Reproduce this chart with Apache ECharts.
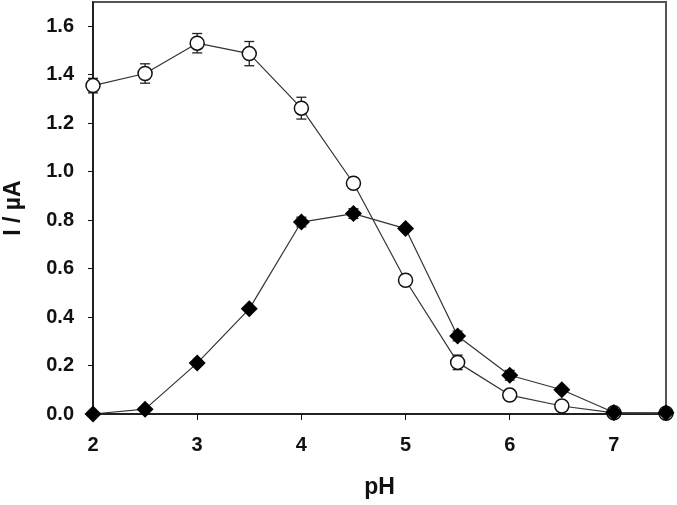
<!DOCTYPE html>
<html>
<head>
<meta charset="utf-8">
<script src="https://cdn.jsdelivr.net/npm/echarts@6/dist/echarts.min.js"></script>
<style>
  html, body { margin: 0; padding: 0; background: #fff; }
  #chart { width: 677px; height: 505px; }
</style>
</head>
<body>
<div id="chart"></div>
<script>
// pH values
var ph = [2, 2.5, 3, 3.5, 4, 4.5, 5, 5.5, 6, 6.5, 7, 7.5];
// open circles
var openI = [1.355, 1.405, 1.53, 1.487, 1.262, 0.952, 0.552, 0.213, 0.078, 0.033, 0.005, 0.003];
var openErr = [0.03, 0.04, 0.04, 0.05, 0.045, 0.02, 0.02, 0.03, 0.015, 0.01, 0, 0];
// filled diamonds
var fillI = [0.0, 0.02, 0.21, 0.434, 0.792, 0.827, 0.765, 0.322, 0.16, 0.1, 0.006, 0.005];
var fillErr = [0, 0, 0, 0, 0.02, 0.02, 0, 0.02, 0.02, 0, 0, 0];
var xTicks = [2, 3, 4, 5, 6, 7];
var yTicks = [0, 0.2, 0.4, 0.6, 0.8, 1.0, 1.2, 1.4, 1.6];

function pairs(ys) {
    return ph.map(function (x, i) { return [x, ys[i]]; });
}
function errData(ys, es) {
    var out = [];
    ph.forEach(function (x, i) {
        if (es[i] > 0) out.push([x, ys[i] - es[i], ys[i] + es[i]]);
    });
    return out;
}
function errBar(params, api) {
    var x = api.value(0);
    var lo = api.coord([x, api.value(1)]);
    var hi = api.coord([x, api.value(2)]);
    var w = 5;
    var st = { stroke: '#222', lineWidth: 1.3 };
    return {
        type: 'group',
        children: [
            {type: 'line', shape: {x1: lo[0], y1: lo[1], x2: hi[0], y2: hi[1]}, style: st},
            {type: 'line', shape: {x1: lo[0] - w, y1: lo[1], x2: lo[0] + w, y2: lo[1]}, style: st},
            {type: 'line', shape: {x1: hi[0] - w, y1: hi[1], x2: hi[0] + w, y2: hi[1]}, style: st}
        ]
    };
}

var font = 'Liberation Sans, Arial, sans-serif';
var chart = echarts.init(document.getElementById('chart'));
chart.setOption({
    animation: false,
    grid: {left: 93, right: 11, top: 2, bottom: 91, outerBoundsMode: 'none', containLabel: false,
        show: true, borderColor: '#555', borderWidth: 2},
    xAxis: {
        type: 'value', min: 2, max: 7.5,
        name: 'pH', nameLocation: 'middle', nameGap: 62,
        nameTextStyle: {fontFamily: font, fontWeight: 'bold', fontSize: 23, color: '#111'},
        axisLine: {lineStyle: {color: '#111', width: 1.5}},
        axisTick: {customValues: xTicks, length: 6, lineStyle: {color: '#111'}},
        axisLabel: {customValues: xTicks, margin: 21, fontFamily: font, fontWeight: 'bold', fontSize: 20, color: '#111'},
        splitLine: {show: false}
    },
    yAxis: {
        type: 'value', min: 0, max: 1.7,
        name: 'I / µA', nameLocation: 'middle', nameGap: 68,
        nameTextStyle: {fontFamily: font, fontWeight: 'bold', fontSize: 23, color: '#111'},
        axisLine: {lineStyle: {color: '#111', width: 1.5}},
        axisTick: {customValues: yTicks, length: 5, lineStyle: {color: '#111'}},
        axisLabel: {customValues: yTicks, margin: 19, fontFamily: font, fontWeight: 'bold', fontSize: 20, color: '#111',
            formatter: function (v) { return v.toFixed(1); }},
        splitLine: {show: false}
    },
    series: [
        {type: 'custom', renderItem: errBar, data: errData(openI, openErr), z: 1, clip: false},
        {type: 'custom', renderItem: errBar, data: errData(fillI, fillErr), z: 1, clip: false},
        {
            type: 'line', data: pairs(openI), z: 3, clip: false,
            symbol: 'circle', symbolSize: 14,
            lineStyle: {color: '#333', width: 1.2},
            itemStyle: {color: '#fff', borderColor: '#111', borderWidth: 1.5}
        },
        {
            type: 'line', data: pairs(fillI), z: 4, clip: false,
            symbol: 'diamond', symbolSize: 17,
            lineStyle: {color: '#333', width: 1.2},
            itemStyle: {color: '#000'}
        }
    ]
});
</script>
</body>
</html>
